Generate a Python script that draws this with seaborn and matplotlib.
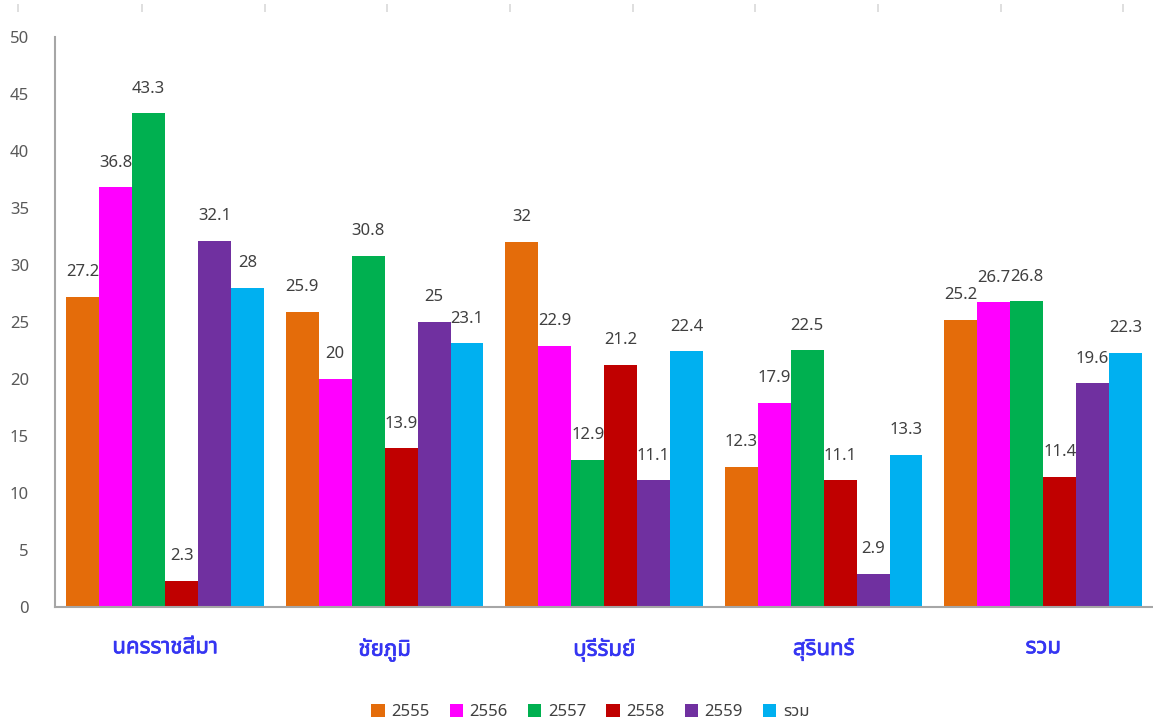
import matplotlib
matplotlib.use("Agg")
import matplotlib.pyplot as plt
import matplotlib.patheffects as pe
from matplotlib import font_manager
from matplotlib.ft2font import FT2Font
import seaborn as sns
import pandas as pd

# ---- data ----
provinces = ["นครราชสีมา", "ชัยภูมิ", "บุรีรัมย์", "สุรินทร์", "รวม"]
series_names = ["2555", "2556", "2557", "2558", "2559", "รวม"]
v2555 = [27.2, 25.9, 32.0, 12.3, 25.2]
v2556 = [36.8, 20.0, 22.9, 17.9, 26.7]
v2557 = [43.3, 30.8, 12.9, 22.5, 26.8]
v2558 = [2.3, 13.9, 21.2, 11.1, 11.4]
v2559 = [32.1, 25.0, 11.1, 2.9, 19.6]
v_total = [28.0, 23.1, 22.4, 13.3, 22.3]
y_ticks = [0, 5, 10, 15, 20, 25, 30, 35, 40, 45, 50]

colors = ["#E46C0A", "#FF00FF", "#00B050", "#C00000", "#7030A0", "#00B0F0"]
label_blue = "#3535F2"


def find_thai_font():
    preferred = ["Tahoma", "Leelawadee", "Leelawadee UI", "Noto Sans Thai",
                 "Noto Sans Thai UI", "Loma", "Garuda", "Norasi", "Sarabun",
                 "Tlwg Typo", "Kinnari", "Waree", "Umpush", "Laksaman"]
    found = {}
    for fe in font_manager.fontManager.ttflist:
        try:
            cmap = FT2Font(fe.fname).get_charmap()
        except Exception:
            continue
        if 0x0E19 in cmap and 0x0E2A in cmap:
            found.setdefault(fe.name, fe.fname)
    for p in preferred:
        if p in found:
            return p
    if found:
        return sorted(found)[0]
    return None


sns.set_theme(style="white")
thai = find_thai_font()
fams = ([thai] if thai else []) + ["DejaVu Sans"]
plt.rcParams["font.family"] = fams

df = pd.DataFrame({
    "province": provinces * 6,
    "series": sum([[s] * len(provinces) for s in series_names], []),
    "value": v2555 + v2556 + v2557 + v2558 + v2559 + v_total,
})

fig = plt.figure(figsize=(11.53, 7.24), dpi=100)
ax = fig.add_axes([0.048, 0.162, 0.952, 0.787])

sns.barplot(data=df, x="province", y="value", hue="series",
            hue_order=series_names, order=provinces, palette=colors,
            width=0.9, gap=0, saturation=1, errorbar=None, ax=ax,
            legend=True, linewidth=0)

for cont in ax.containers:
    ax.bar_label(cont, fmt="%g", padding=12, fontsize=12, color="#404040",
                 family=fams)

ax.set_xlim(-0.5, 4.5)
ax.set_ylim(0, 50)
ax.set_yticks(y_ticks)
ax.set_xlabel("")
ax.set_ylabel("")
ax.tick_params(axis="y", length=0, pad=19, labelsize=12, labelcolor="#595959")
ax.tick_params(axis="x", length=0, pad=22, labelsize=16, labelcolor=label_blue)
for lbl in ax.get_xticklabels():
    lbl.set_fontweight("bold")
    # thicken the glyphs a little, the Thai face ships in one weight only
    lbl.set_path_effects([pe.withStroke(linewidth=0.5, foreground=label_blue)])
for side in ["top", "right"]:
    ax.spines[side].set_visible(False)
for side in ["left", "bottom"]:
    ax.spines[side].set_color("#A6A6A6")
    ax.spines[side].set_linewidth(1.5)

handles, labels = ax.get_legend_handles_labels()
ax.get_legend().remove()
fig.legend(handles, labels, loc="center", bbox_to_anchor=(0.512, 0.016),
           ncol=6, frameon=False, fontsize=12, handlelength=0.8,
           handleheight=0.8, handletextpad=0.4, columnspacing=1.2,
           labelcolor="#404040")

# faint tick strip along the top edge
top = fig.add_axes([0.0, 0.983, 1.0, 0.01])
top.set_xlim(0, 1153)
top.set_xticks([18, 142, 265, 387, 510, 633, 755, 878, 1001, 1123])
top.set_yticks([])
top.tick_params(axis="x", direction="in", length=6, color="#D9D9D9",
                labelbottom=False, bottom=True, width=1.2)
for s in top.spines.values():
    s.set_visible(False)
top.patch.set_alpha(0)

fig.savefig("out.png", dpi=100)
